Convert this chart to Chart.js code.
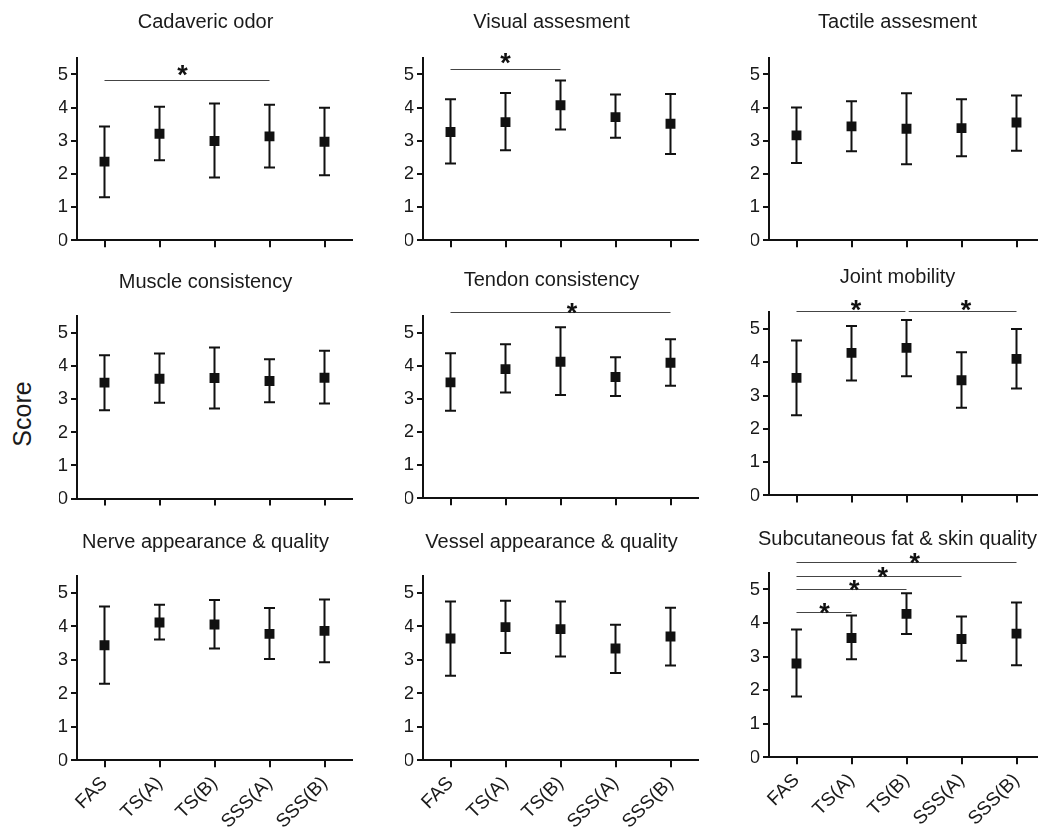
<!DOCTYPE html>
<html><head><meta charset="utf-8">
<script src="https://cdn.jsdelivr.net/npm/chart.js@4/dist/chart.umd.min.js"></script>
<style>
html,body{margin:0;padding:0;background:#fff;width:1038px;height:827px;overflow:hidden;position:relative;}
.panel{position:absolute;}
#score{position:absolute;left:22px;top:414px;transform:translate(-50%,-50%) rotate(-90deg);font:25px "Liberation Sans",Arial,sans-serif;color:#1a1a1a;white-space:nowrap;}
</style></head><body>
<div id="score">Score</div>
<script>
// ---------- DATA ----------
const categories = ['FAS', 'TS(A)', 'TS(B)', 'SSS(A)', 'SSS(B)'];
const yTickValues = [0, 1, 2, 3, 4, 5];

const titleCadaveric = 'Cadaveric odor';
const titleVisual = 'Visual assesment';
const titleTactile = 'Tactile assesment';
const titleMuscle = 'Muscle consistency';
const titleTendon = 'Tendon consistency';
const titleJoint = 'Joint mobility';
const titleNerve = 'Nerve appearance & quality';
const titleVessel = 'Vessel appearance & quality';
const titleSubcut = 'Subcutaneous fat & skin quality';

const cadavericMean = [2.37, 3.21, 2.99, 3.13, 2.97];
const cadavericHi   = [3.43, 4.02, 4.12, 4.08, 3.99];
const cadavericLo   = [1.30, 2.41, 1.89, 2.19, 1.96];

const visualMean = [3.26, 3.56, 4.07, 3.71, 3.51];
const visualHi   = [4.25, 4.44, 4.81, 4.39, 4.41];
const visualLo   = [2.31, 2.71, 3.34, 3.09, 2.60];

const tactileMean = [3.16, 3.43, 3.36, 3.38, 3.55];
const tactileHi   = [4.00, 4.19, 4.43, 4.25, 4.36];
const tactileLo   = [2.33, 2.68, 2.29, 2.53, 2.70];

const muscleMean = [3.50, 3.62, 3.64, 3.55, 3.65];
const muscleHi   = [4.33, 4.38, 4.56, 4.21, 4.46];
const muscleLo   = [2.67, 2.89, 2.72, 2.91, 2.87];

const tendonMean = [3.50, 3.90, 4.12, 3.66, 4.09];
const tendonHi   = [4.38, 4.65, 5.16, 4.26, 4.80];
const tendonLo   = [2.64, 3.19, 3.12, 3.09, 3.40];

const jointMean = [3.53, 4.28, 4.43, 3.46, 4.10];
const jointHi   = [4.65, 5.09, 5.27, 4.30, 5.00];
const jointLo   = [2.41, 3.45, 3.58, 2.63, 3.21];

const nerveMean = [3.44, 4.12, 4.06, 3.78, 3.87];
const nerveHi   = [4.60, 4.65, 4.79, 4.55, 4.81];
const nerveLo   = [2.29, 3.61, 3.34, 3.03, 2.93];

const vesselMean = [3.64, 3.98, 3.92, 3.34, 3.70];
const vesselHi   = [4.75, 4.77, 4.75, 4.05, 4.56];
const vesselLo   = [2.53, 3.21, 3.10, 2.61, 2.83];

const subcutMean = [2.79, 3.55, 4.27, 3.52, 3.68];
const subcutHi   = [3.80, 4.22, 4.88, 4.19, 4.61];
const subcutLo   = [1.81, 2.92, 3.67, 2.87, 2.74];

// significance brackets: [fromCategory, toCategory, lineValue, starCategory, starValue]
const cadavericSig = [[0, 3, 4.82, 1.42, 5.17]];
const visualSig    = [[0, 2, 5.17, 1.00, 5.54]];
const tactileSig   = [];
const muscleSig    = [];
const tendonSig    = [[0, 4, 5.62, 2.21, 5.79]];
const jointSig     = [[0, 1.98, 5.55, 1.08, 5.78], [2.04, 4, 5.55, 3.08, 5.78]];
const nerveSig     = [];
const vesselSig    = [];
const subcutSig    = [[0, 1, 4.33, 0.51, 4.50], [0, 2, 5.01, 1.05, 5.18], [0, 3, 5.39, 1.57, 5.57], [0, 4, 5.80, 2.15, 5.99]];

// ---------- LAYOUT ----------
const FONT = '"Liberation Sans", Arial, sans-serif';
const INK = '#111';
const TEXT = '#1a1a1a';
const COL_W = 346, AXIS_LEFT = 77, PLOT_W = 275, TITLE_CX = 205.5, PAD_R = 10;
const PAD_L = 2 * TITLE_CX - AXIS_LEFT - PLOT_W;   // so that title centre sits at TITLE_CX
const CANVAS_W = AXIS_LEFT + PLOT_W + PAD_R;
const TITLE_SIZE = 20, TITLE_LH = TITLE_SIZE * 1.2, TITLE_PAD = 4;
const TICK_SIZE = 19;

const panels = [
  {col:0, title:titleCadaveric, mean:cadavericMean, hi:cadavericHi, lo:cadavericLo, sig:cadavericSig, titleY:21.7, top:57.4, bottom:240, labels:false},
  {col:1, title:titleVisual, mean:visualMean, hi:visualHi, lo:visualLo, sig:visualSig, titleY:21.7, top:57.4, bottom:240, labels:false},
  {col:2, title:titleTactile, mean:tactileMean, hi:tactileHi, lo:tactileLo, sig:tactileSig, titleY:21.7, top:57.4, bottom:240, labels:false},
  {col:0, title:titleMuscle, mean:muscleMean, hi:muscleHi, lo:muscleLo, sig:muscleSig, titleY:281.7, top:316.1, bottom:498.3, labels:false},
  {col:1, title:titleTendon, mean:tendonMean, hi:tendonHi, lo:tendonLo, sig:tendonSig, titleY:280, top:316.1, bottom:498.3, labels:false},
  {col:2, title:titleJoint, mean:jointMean, hi:jointHi, lo:jointLo, sig:jointSig, titleY:277.3, top:312.6, bottom:495.7, labels:false},
  {col:0, title:titleNerve, mean:nerveMean, hi:nerveHi, lo:nerveLo, sig:nerveSig, titleY:541.7, top:576, bottom:760, labels:true},
  {col:1, title:titleVessel, mean:vesselMean, hi:vesselHi, lo:vesselLo, sig:vesselSig, titleY:541.7, top:576, bottom:760, labels:true},
  {col:2, title:titleSubcut, mean:subcutMean, hi:subcutHi, lo:subcutLo, sig:subcutSig, titleY:539, top:572.5, bottom:757.3, labels:true}
];

function makePanel(p) {
  const T = p.titleY - TITLE_LH / 2 - TITLE_PAD;
  const titleBottomPad = p.top - T - TITLE_PAD - TITLE_LH;
  const xh = p.labels ? (827 - p.bottom + 30) : 14;
  const H = Math.ceil(p.bottom - T + xh);
  const wrap = document.createElement('div');
  wrap.className = 'panel';
  wrap.style.left = (p.col * COL_W) + 'px';
  wrap.style.top = T + 'px';
  const canvas = document.createElement('canvas');
  canvas.width = CANVAS_W; canvas.height = H;
  canvas.style.width = CANVAS_W + 'px'; canvas.style.height = H + 'px';
  wrap.appendChild(canvas);
  document.body.appendChild(wrap);
  const xhFinal = H - (p.bottom - T);

  const errPlugin = {
    id: 'errbars',
    beforeDatasetsDraw(chart) {
      const {ctx, scales: {x, y}} = chart;
      ctx.save();
      ctx.strokeStyle = INK; ctx.lineWidth = 2;
      p.mean.forEach((m, i) => {
        const px = x.getPixelForValue(i);
        const yh = y.getPixelForValue(p.hi[i]);
        const yl = y.getPixelForValue(p.lo[i]);
        ctx.beginPath();
        ctx.moveTo(px, yh); ctx.lineTo(px, yl);
        ctx.moveTo(px - 5.5, yh); ctx.lineTo(px + 5.5, yh);
        ctx.moveTo(px - 5.5, yl); ctx.lineTo(px + 5.5, yl);
        ctx.stroke();
      });
      ctx.restore();
    }
  };
  const sigPlugin = {
    id: 'sig',
    afterDraw(chart) {
      const {ctx, scales: {x, y}} = chart;
      const catPx = v => x.getPixelForValue(0) + v * (x.getPixelForValue(1) - x.getPixelForValue(0));
      ctx.save();
      p.sig.forEach(s => {
        const ly = Math.round(y.getPixelForValue(s[2])) + 0.5;
        ctx.strokeStyle = '#444'; ctx.lineWidth = 1.2;
        ctx.beginPath();
        ctx.moveTo(catPx(s[0]), ly); ctx.lineTo(catPx(s[1]), ly);
        ctx.stroke();
        ctx.fillStyle = INK;
        ctx.font = 'bold 27px ' + FONT;
        ctx.textAlign = 'center'; ctx.textBaseline = 'alphabetic';
        ctx.fillText('*', catPx(s[3]), y.getPixelForValue(s[4]) + 27 * 0.575);
      });
      ctx.restore();
    }
  };

  new Chart(canvas, {
    type: 'line',
    data: {
      labels: categories,
      datasets: [{
        data: p.mean, showLine: false, pointStyle: 'rect',
        pointRadius: 7, pointHoverRadius: 7, pointBorderWidth: 0,
        pointBackgroundColor: INK, pointBorderColor: INK
      }]
    },
    options: {
      responsive: false, maintainAspectRatio: false, animation: false,
      events: [],
      layout: {padding: {left: PAD_L, right: PAD_R, top: 0, bottom: 0}},
      plugins: {
        legend: {display: false}, tooltip: {enabled: false},
        title: {display: true, text: p.title, color: TEXT,
          font: {family: FONT, size: TITLE_SIZE, weight: 'normal', lineHeight: 1.2},
          padding: {top: TITLE_PAD, bottom: titleBottomPad}}
      },
      scales: {
        x: {
          type: 'category', offset: true,
          grid: {display: true, drawOnChartArea: false, drawTicks: true, tickLength: 7, lineWidth: 2, color: INK, offset: false},
          border: {display: true, width: 2, color: INK},
          ticks: {display: p.labels, minRotation: 45, maxRotation: 45, autoSkip: false, padding: 5,
            color: TEXT, font: {family: FONT, size: TICK_SIZE}},
          afterFit(s) { s.height = xhFinal; }
        },
        y: {
          min: 0, max: 5.5,
          afterBuildTicks(s) { s.ticks = yTickValues.map(v => ({value: v})); },
          grid: {display: true, drawOnChartArea: false, drawTicks: true, tickLength: 6, lineWidth: 2, color: INK},
          border: {display: true, width: 2, color: INK},
          ticks: {padding: 3, color: TEXT, font: {family: FONT, size: TICK_SIZE}},
          afterFit(s) { s.width = AXIS_LEFT - PAD_L; }
        }
      }
    },
    plugins: [errPlugin, sigPlugin]
  });
}
panels.forEach(makePanel);
</script>
</body></html>
